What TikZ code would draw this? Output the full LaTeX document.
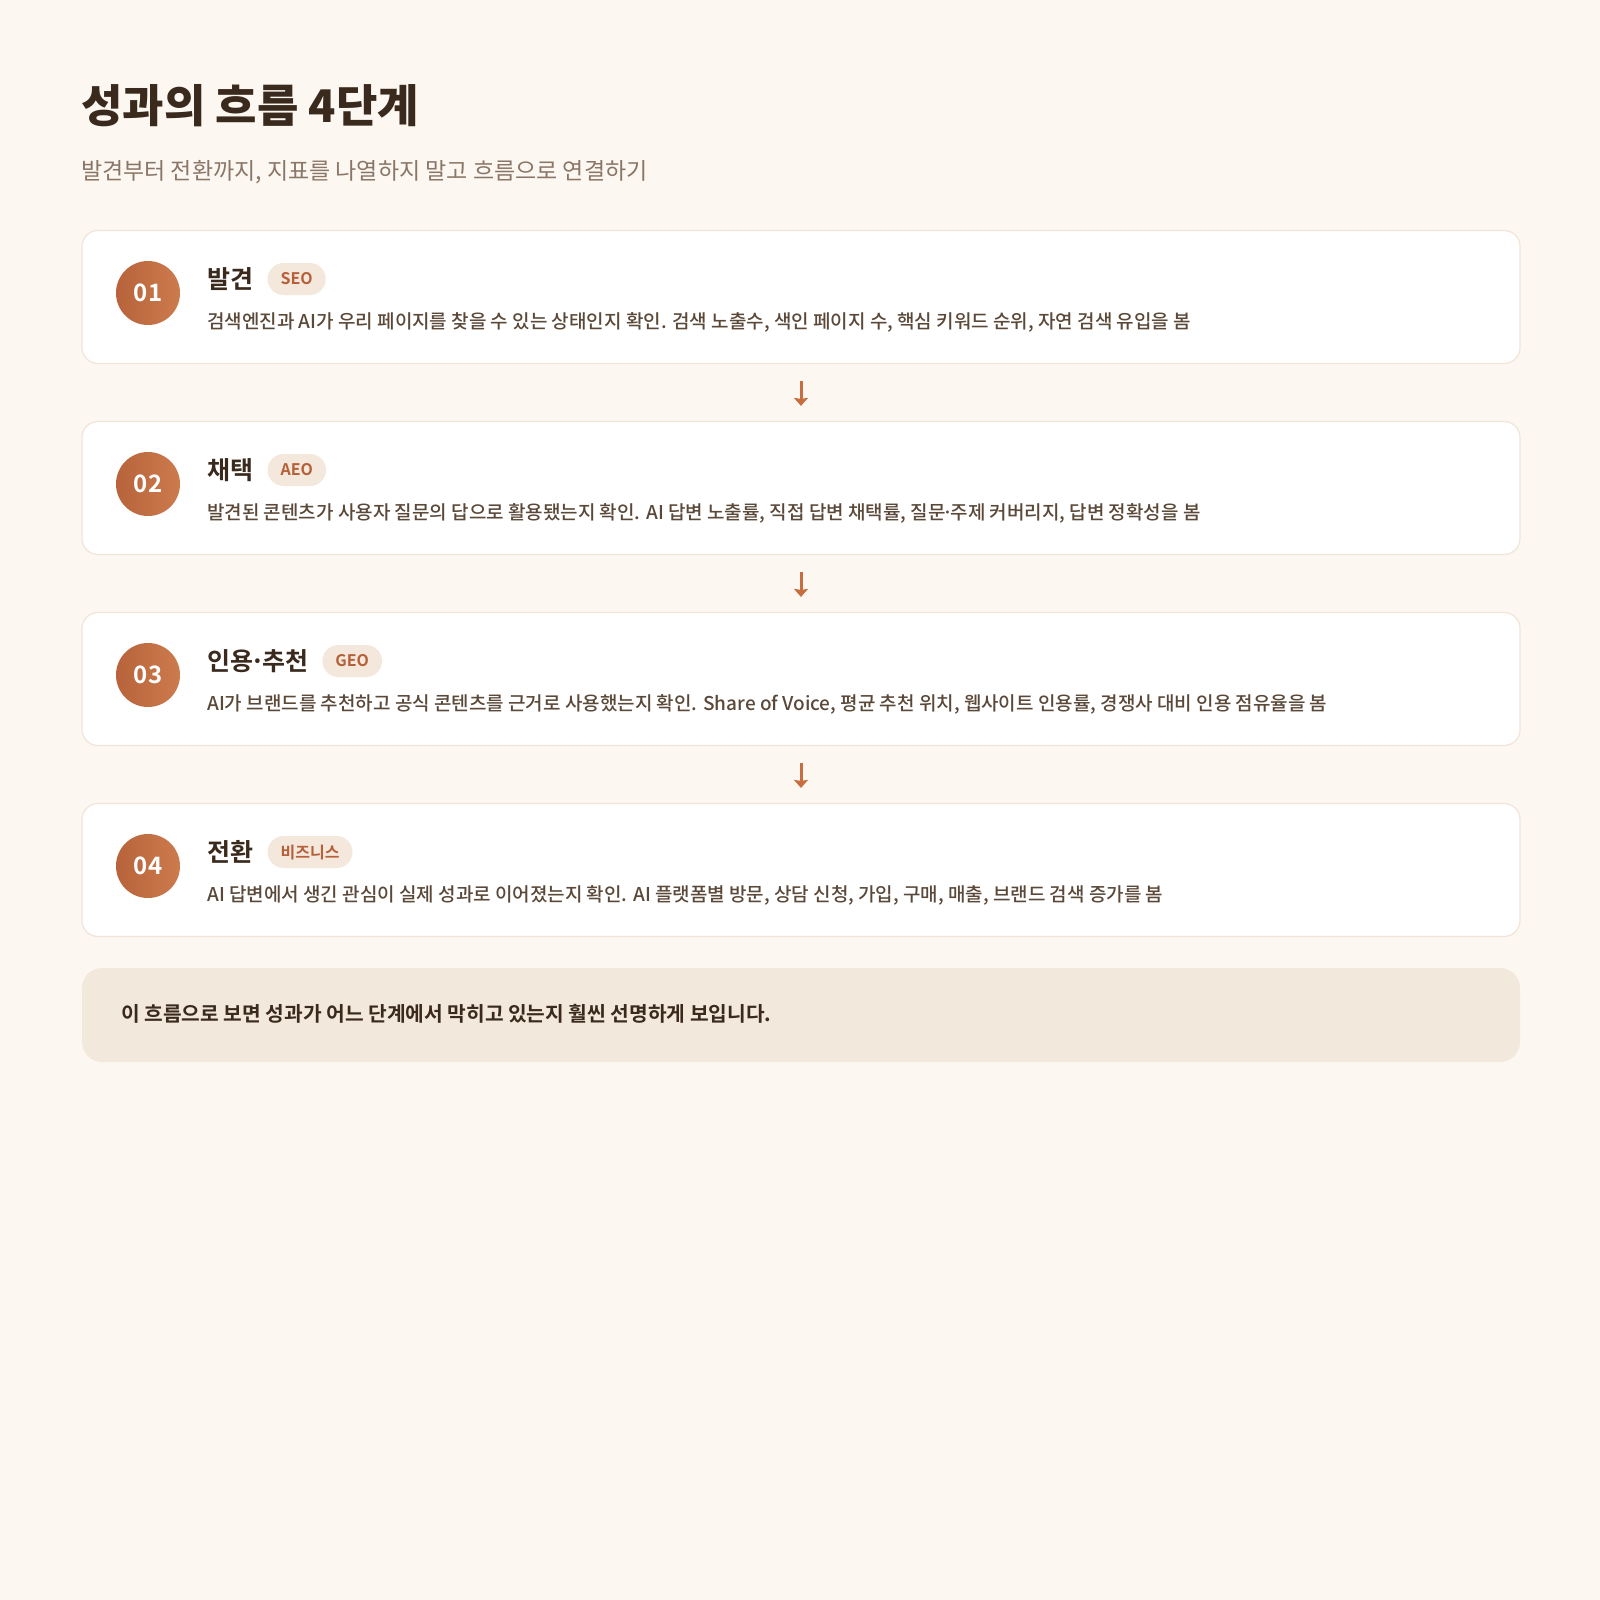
\documentclass[tikz,border=0pt]{standalone}
\usepackage{fontspec}
\usepackage{xcolor}
\usepackage{tikz}
\usetikzlibrary{arrows.meta}
\usetikzlibrary{positioning}
\setmainfont{Noto Sans CJK KR}
\newfontfamily\krmedium{Noto Sans CJK KR Medium}
\newfontfamily\krbold{Noto Sans CJK KR Bold}
\newfontfamily\krblack{Noto Sans CJK KR Black}
\definecolor{pagebg}{HTML}{FCF7F1}
\definecolor{cardline}{HTML}{F1E5D9}
\definecolor{ink}{HTML}{3A2A1E}
\definecolor{subink}{HTML}{8A7666}
\definecolor{descink}{HTML}{5A4838}
\definecolor{stepdark}{HTML}{B8633B}
\definecolor{steplight}{HTML}{CC7B4D}
\definecolor{badgefill}{HTML}{F4E7DB}
\definecolor{badgeink}{HTML}{B5603A}
\definecolor{notefill}{HTML}{F3E8DC}
\definecolor{flowcolor}{HTML}{C66E40}
\newcommand\mdot{\kern-3pt·\kern-3pt}
\tikzstyle{heading}=[anchor=west,inner sep=0pt,text=ink,font=\krblack\fontsize{45}{50}\selectfont]
\tikzstyle{subhead}=[anchor=west,inner sep=0pt,text=subink,font=\fontsize{23}{28}\selectfont]
\tikzstyle{card}=[draw=cardline,line width=1.2pt,fill=white,rounded corners=16pt,minimum width=1438pt,minimum height=133pt]
\tikzstyle{stepnum}=[circle,minimum size=64pt,inner sep=0pt,left color=stepdark,right color=steplight,text=white,font=\krbold\fontsize{24}{28}\selectfont]
\tikzstyle{steptitle}=[anchor=west,inner sep=0pt,text=ink,font=\krbold\fontsize{25}{30}\selectfont]
\tikzstyle{badge}=[fill=badgefill,rounded corners=16pt,minimum height=32pt,inner xsep=13pt,inner ysep=0pt,text=badgeink,font=\krbold\fontsize{16}{19}\selectfont]
\tikzstyle{stepdesc}=[anchor=west,inner sep=0pt,text=descink,font=\krmedium\fontsize{19}{23}\selectfont]
\tikzstyle{flow}=[draw=flowcolor,line width=3pt,-{Stealth[length=8pt,width=14pt,inset=1pt]},shorten <=17pt,shorten >=15pt]
\tikzstyle{note}=[fill=notefill,rounded corners=20pt,minimum width=1438pt,minimum height=94pt]
\tikzstyle{notetext}=[anchor=west,inner sep=0pt,text=ink,font=\krbold\fontsize{20.3}{24}\selectfont]

\begin{document}
\begin{tikzpicture}[x=1pt,y=-1pt]
	\fill[pagebg] (0,0) rectangle (1600,1600);
	\node[heading] (title) at (81,106) {성과의 흐름 4단계};
	\node[subhead] (sub) at (81,172) {발견부터 전환까지, 지표를 나열하지 말고 흐름으로 연결하기};
	% steps
	\node[card] (card1) at (801,297) {};
	\node[card] (card2) at (801,488) {};
	\node[card] (card3) at (801,679) {};
	\node[card] (card4) at (801,870) {};
	\node[stepnum] (num1) at (148,293) {01};
	\node[stepnum] (num2) at (148,484) {02};
	\node[stepnum] (num3) at (148,675) {03};
	\node[stepnum] (num4) at (148,866) {04};
	\node[steptitle] (head1) at (207,279) {발견};
	\node[steptitle] (head2) at (207,470) {채택};
	\node[steptitle] (head3) at (207,661) {인용\mdot 추천};
	\node[steptitle] (head4) at (207,852) {전환};
	\node[badge,right=14pt of head1] (tag1) {SEO};
	\node[badge,right=14pt of head2] (tag2) {AEO};
	\node[badge,right=14pt of head3] (tag3) {GEO};
	\node[badge,right=14pt of head4] (tag4) {비즈니스};
	\node[stepdesc] (desc1) at (207,322) {검색엔진과 AI가 우리 페이지를 찾을 수 있는 상태인지 확인. 검색 노출수, 색인 페이지 수, 핵심 키워드 순위, 자연 검색 유입을 봄};
	\node[stepdesc] (desc2) at (207,513) {발견된 콘텐츠가 사용자 질문의 답으로 활용됐는지 확인. AI 답변 노출률, 직접 답변 채택률, 질문\mdot 주제 커버리지, 답변 정확성을 봄};
	\node[stepdesc] (desc3) at (207,704) {AI가 브랜드를 추천하고 공식 콘텐츠를 근거로 사용했는지 확인. Share of Voice, 평균 추천 위치, 웹사이트 인용률, 경쟁사 대비 인용 점유율을 봄};
	\node[stepdesc] (desc4) at (207,895) {AI 답변에서 생긴 관심이 실제 성과로 이어졌는지 확인. AI 플랫폼별 방문, 상담 신청, 가입, 구매, 매출, 브랜드 검색 증가를 봄};
	\draw[flow] (card1) -- (card2);
	\draw[flow] (card2) -- (card3);
	\draw[flow] (card3) -- (card4);
	% closing note
	\node[note] (note) at (801,1015) {};
	\node[notetext] (notetxt) at (121,1014) {이 흐름으로 보면 성과가 어느 단계에서 막히고 있는지 훨씬 선명하게 보입니다.};
\end{tikzpicture}
\end{document}
